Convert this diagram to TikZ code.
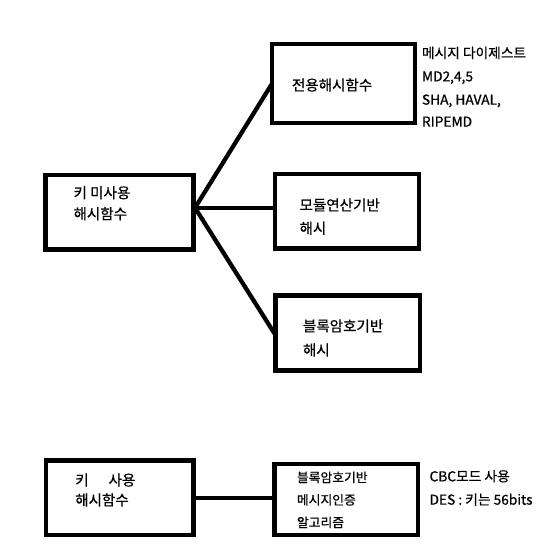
\documentclass[tikz,border=0pt]{standalone}
\usepackage{fontspec}
\newfontfamily\kr[FakeBold=0.7]{Noto Sans CJK KR}
\usetikzlibrary{calc}
\begin{document}
\begin{tikzpicture}[x=0.75pt,y=-0.75pt,
  box/.style={draw=black,line width=3.2pt,minimum width=#1,inner sep=0pt,outer sep=0pt},
  conn/.style={line width=3.2pt,line cap=butt},
  big/.style={font=\kr\fontsize{10.9pt}{13pt}\selectfont,anchor=west,inner sep=0pt,text height=0.8em,text depth=0.1em},
  small/.style={font=\kr\fontsize{9.6pt}{12pt}\selectfont,anchor=west,inner sep=0pt,text height=0.8em,text depth=0.1em},
  side/.style={font=\kr\fontsize{10.3pt}{12pt}\selectfont,anchor=west,inner sep=0pt,text height=0.8em,text depth=0.1em}]
\useasboundingbox (0,0) rectangle (559,553);
\fill[white] (0,0) rectangle (559,553);
% boxes
\node[box=111pt,minimum height=55.9pt] (A) at (119.5,212.3) {};
\node[box=107.25pt,minimum height=59.25pt] (B) at (343.5,83.7) {};
\node[box=108pt,minimum height=55.9pt] (C) at (346.8,211.2) {};
\node[box=108.4pt,minimum height=56.25pt] (D) at (347.7,333) {};
\node[box=110.6pt,minimum height=55.9pt] (E) at (119.8,497.8) {};
\node[box=107.6pt,minimum height=53.5pt] (F) at (346.3,499.4) {};
% connectors
\coordinate (J) at (195,207.8);
\draw[conn] (J) -- (B.west);
\draw[conn] (J) -- (J -| C.west);
\draw[conn] (J) -- ($(D.west)+(0,2)$);
\draw[conn] ($(E.east)+(0,0.5)$) -- ($(E.east -| F.west)+(0,0.5)$);
% box texts
\node[big] (A1) at (73.3,193.5) {키 미사용};
\node[big] (A2) at (73.3,214.5) {해시함수};
\node[big] (B1) at (291.7,85.8) {전용해시함수};
\node[big] (C1) at (299.3,205.8) {모듈연산기반};
\node[big] (C2) at (299.3,229) {해시};
\node[big] (D1) at (302.7,326.7) {블록암호기반};
\node[big] (D2) at (302.7,350.8) {해시};
\node[big] (E1) at (75,480.8) {키\hspace{15pt}사용};
\node[big] (E2) at (75,500.8) {해시함수};
\node[small] (F1) at (296.7,477.5) {블록암호기반};
\node[small] (F2) at (296.7,500) {메시지인증};
\node[small] (F3) at (296.7,522.5) {알고리즘};
% side texts
\node[side] (R1) at (421.7,53.3) {메시지 다이제스트};
\node[side] (R2) at (421.7,76.7) {MD2,4,5};
\node[side] (R3) at (421.7,100) {SHA, HAVAL,};
\node[side] (R4) at (421.7,122) {RIPEMD};
\node[side] (S1) at (429.3,476.7) {CBC모드 사용};
\node[side] (S2) at (429.3,500) {DES : 키는 56bits};
\end{tikzpicture}
\end{document}
